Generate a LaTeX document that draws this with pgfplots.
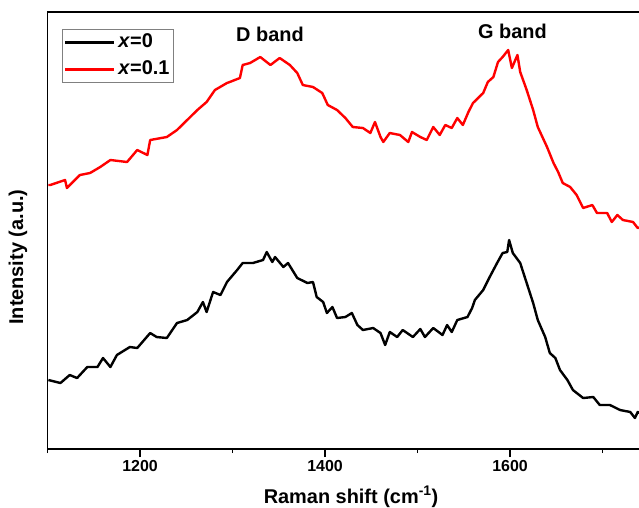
\documentclass[border=0pt]{standalone}
\usepackage{fontspec}
\setmainfont{Liberation Sans}
\usepackage{pgfplots}
\pgfplotsset{compat=1.18}
\begin{document}
\begin{tikzpicture}
\begin{axis}[
  scale only axis, width=593.5bp, height=437bp,
  xmin=1100, xmax=1741.6, ymin=0, ymax=437,
  xtick={1200,1400,1600}, minor xtick={1100,1300,1500,1700},
  xtick pos=bottom, ytick=\empty, tick align=outside,
  major tick length=8bp, minor tick length=4bp,
  every tick/.style={black, line width=1.3bp},
  axis line style={line width=1.3bp},
  ticklabel style={font=\bfseries\fontsize{16}{19}\selectfont},
  /pgf/number format/assume math mode=true,
  /pgf/number format/1000 sep={},
  xlabel={Raman shift (cm\textsuperscript{-1})},
  ylabel={Intensity (a.u.)},
  label style={font=\bfseries\fontsize{20}{24}\selectfont},
  xlabel style={at={(rel axis cs:0.5114,-0.1098)}, anchor=center},
  ylabel style={at={(rel axis cs:-0.0497,0.439)}, anchor=center},
  legend style={at={(rel axis cs:0.0244,0.961)}, anchor=north west, draw=gray, line width=0.8bp,
    font=\bfseries\fontsize{20}{24}\selectfont, inner xsep=2.5bp, inner ysep=2.5bp,
    nodes={inner sep=1.5bp, text height=14.5bp, text depth=3bp}, row sep=6.5bp, column sep=3bp},
  legend cell align=left,
  legend image code/.code={\fill[#1, draw=none] (0bp,-1.35bp) rectangle (49bp,1.35bp);},
]
\addplot[black, line width=2.4bp, line join=round] coordinates {
(1101,69) (1114,66) (1124,74) (1132,71) (1143,82) (1154,82) (1160,91) (1168,82) (1175,94)
(1189,102) (1197,101) (1211,116) (1218,112) (1229,111) (1240,126) (1251,129) (1262,137)
(1268,147) (1272,137) (1279,157) (1287,154) (1294,167) (1305,179) (1311,186) (1322,186)
(1333,189) (1337,197) (1343,187) (1346,192) (1355,182) (1360,186) (1370,171) (1381,166)
(1387,167) (1391,152) (1398,147) (1402,136) (1408,142) (1413,131) (1422,132) (1429,136)
(1435,124) (1441,119) (1452,121) (1460,116) (1465,104) (1470,117) (1478,112) (1484,119)
(1495,112) (1503,120) (1508,112) (1517,121) (1527,114) (1532,124) (1537,117) (1543,129)
(1554,132) (1559,141) (1562,149) (1571,159) (1578,172) (1586,186) (1592,196) (1597,197)
(1599,209) (1603,196) (1611,186) (1618,166) (1625,146) (1630,129) (1638,112) (1643,96)
(1649,91) (1654,79) (1662,69) (1668,59) (1679,51) (1690,52) (1697,44) (1708,44) (1719,39)
(1730,37) (1735,31) (1738,37) (1742,35)
};
\addlegendentry{\textit{x}=0}
\addplot[red, line width=2.4bp, line join=round] coordinates {
(1101,264) (1103,264) (1119,269) (1121,261) (1135,274) (1146,276) (1157,282) (1168,289)
(1186,287) (1197,299) (1208,294) (1211,309) (1229,312) (1240,319) (1251,329) (1262,339)
(1272,347) (1281,359) (1294,366) (1297,367) (1308,371) (1311,384) (1319,386) (1330,392)
(1341,384) (1351,391) (1362,384) (1370,376) (1376,364) (1387,362) (1397,356) (1403,344)
(1413,339) (1422,331) (1430,322) (1441,321) (1449,316) (1454,327) (1460,312) (1463,307)
(1470,316) (1481,314) (1490,307) (1494,317) (1503,312) (1510,309) (1517,322) (1524,314)
(1530,324) (1537,321) (1543,331) (1549,324) (1555,337) (1560,346) (1571,356) (1576,367)
(1582,372) (1587,387) (1592,392) (1598,399) (1602,381) (1608,394) (1611,377) (1618,359)
(1625,339) (1630,322) (1635,312) (1640,302) (1647,286) (1652,277) (1657,266) (1665,262)
(1672,254) (1679,241) (1689,244) (1694,236) (1705,236) (1710,227) (1716,234) (1722,229)
(1733,227) (1738,221) (1742,222)
};
\addlegendentry{\textit{x}=0.1}
\node[font=\bfseries\fontsize{20}{24}\selectfont] at (axis cs:1340.5,415) {D band};
\node[font=\bfseries\fontsize{20}{24}\selectfont] at (axis cs:1602.7,418) {G band};
\coordinate (bl) at (rel axis cs:-0.08003,-0.1327);
\coordinate (tr) at (rel axis cs:0.9966,1.02746);
\end{axis}
\pgfresetboundingbox
\path (bl) rectangle (tr);
\end{tikzpicture}
\end{document}
